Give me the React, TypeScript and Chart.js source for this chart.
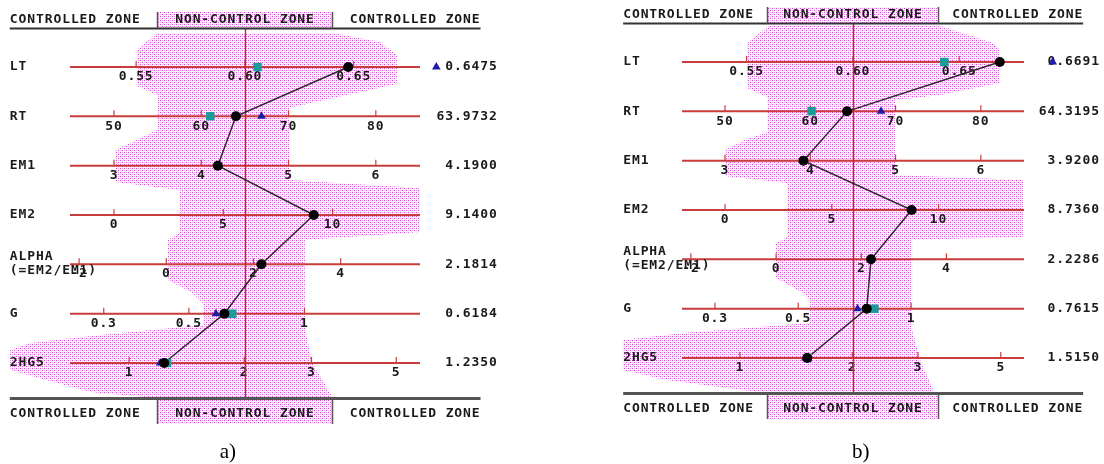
import React, { useEffect, useRef } from 'react';
import { Chart, registerables } from 'chart.js';
Chart.register(...registerables);

// ---------- rows & axes ----------
const ROW_NAMES = ['LT', 'RT', 'EM1', 'EM2', 'ALPHA', 'G', '2HG5'];
const ROW_SUBTITLES = ['', '', '', '', '(=EM2/EM1)', '', ''];
const AXIS_TYPES = ['linear', 'linear', 'linear', 'linear', 'linear', 'logarithmic', 'logarithmic'];
const AXIS_MIN = [0.5196, 44.96, 2.496, -2.014, -2.209, 0.245, 0.7];
const AXIS_MAX = [0.6805, 85.06, 6.506, 14.0, 5.82, 2.0, 5.77];

const LT_TICKS = [0.55, 0.6, 0.65];
const LT_TICK_LABELS = ['0.55', '0.60', '0.65'];
const RT_TICKS = [50, 60, 70, 80];
const RT_TICK_LABELS = ['50', '60', '70', '80'];
const EM1_TICKS = [3, 4, 5, 6];
const EM1_TICK_LABELS = ['3', '4', '5', '6'];
const EM2_TICKS = [0, 5, 10];
const EM2_TICK_LABELS = ['0', '5', '10'];
const ALPHA_TICKS = [-2, 0, 2, 4];
const ALPHA_TICK_LABELS = ['-2', '0', '2', '4'];
const G_TICKS = [0.3, 0.5, 1];
const G_TICK_LABELS = ['0.3', '0.5', '1'];
const HG5_TICKS = [1, 2, 3, 5];
const HG5_TICK_LABELS = ['1', '2', '3', '5'];

const TICK_VALUES = [LT_TICKS, RT_TICKS, EM1_TICKS, EM2_TICKS, ALPHA_TICKS, G_TICKS, HG5_TICKS];
const TICK_LABELS = [LT_TICK_LABELS, RT_TICK_LABELS, EM1_TICK_LABELS, EM2_TICK_LABELS, ALPHA_TICK_LABELS, G_TICK_LABELS, HG5_TICK_LABELS];

const ZONE_LABELS = ['CONTROLLED ZONE', 'NON-CONTROL ZONE', 'CONTROLLED ZONE'];

// ---------- panel a) ----------
const A_VALUES = [0.6475, 63.9732, 4.19, 9.14, 2.1814, 0.6184, 1.235];
const A_TRIANGLES = [0.688, 66.9, null, null, null, 0.588, 1.205];
const A_SQUARES = [0.6058, 61.03, null, null, null, 0.648, 1.257];
const A_ENV_U = [0.249, 0.191, 0.191, 0.249, 0.249, 0.191, 0.129, 0.129, 0.314, 0.314, 0.28, 0.28, 0.351, 0.38, 0.38, 0.086, -0.114, -0.171, -0.171, 0.057, 0.251,
  0.751, 0.691, 0.671, 0.671, 1.0, 1.0, 0.626, 0.626, 0.751, 0.934, 0.934, 0.886, 0.751];
const A_ENV_R = [-0.689, -0.345, 0.385, 0.568, 1.277, 1.48, 1.683, 2.331, 2.493, 3.345, 3.507, 4.318, 4.581, 4.784, 5.23, 5.433, 5.595, 5.737, 6.142, 6.588, 6.71,
  6.71, 5.98, 5.271, 3.507, 3.345, 2.453, 2.291, 0.831, 0.628, 0.345, -0.243, -0.507, -0.689];

// ---------- panel b) ----------
const B_VALUES = [0.6691, 64.3195, 3.92, 8.736, 2.2286, 0.7615, 1.515];
const B_TRIANGLES = [0.694, 68.3, null, null, null, 0.72, 1.5];
const B_SQUARES = [0.643, 60.15, null, null, null, 0.798, 1.52];
const B_ENV_U = [0.257, 0.19, 0.19, 0.249, 0.249, 0.184, 0.126, 0.126, 0.307, 0.307, 0.275, 0.275, 0.354, 0.374, 0.374, 0.003, -0.173, -0.173, -0.044, 0.219, 0.249,
  0.74, 0.696, 0.673, 0.673, 0.997, 0.997, 0.623, 0.623, 0.754, 0.93, 0.93, 0.909, 0.746];
const B_ENV_R = [-0.75, -0.385, 0.527, 0.71, 1.419, 1.581, 1.784, 2.311, 2.453, 3.548, 3.669, 4.379, 4.683, 4.825, 5.291, 5.494, 5.636, 6.244, 6.446, 6.69, 6.73,
  6.73, 6.041, 5.433, 3.608, 3.548, 2.392, 2.291, 0.77, 0.669, 0.426, -0.243, -0.385, -0.75];

const PANELS = [
  { caption: 'a)', values: A_VALUES, triangles: A_TRIANGLES, squares: A_SQUARES, envU: A_ENV_U, envR: A_ENV_R,
    left: 0, width: 560, padding: { left: 70, right: 140, top: 17.67, bottom: 51.7 }, captionU: 0.451 },
  { caption: 'b)', values: B_VALUES, triangles: B_TRIANGLES, squares: B_SQUARES, envU: B_ENV_U, envR: B_ENV_R,
    left: 560, width: 544, padding: { left: 122, right: 80, top: 12.67, bottom: 56.7 }, captionU: 0.523 },
];

// layout constants (axis-fraction / row units)
const ZONE_START = -0.172, ZONE_A = 0.25, ZONE_B = 0.75, ZONE_END = 1.173;
const HEAD_TOP = -1.115, HEAD_TEXT = -0.97, HEAD_LINE = -0.78;
const FOOT_LINE = 6.72, FOOT_TEXT = 7.034, FOOT_BOTTOM = 7.235;
const LABEL_U = -0.172, VALUE_U = 1.222;

const FONT = 'bold 13px "DejaVu Sans Mono"';
const TEXT = '#1a1a1a';
const RED = '#c83c3c';
const BLACK = '#000000';
const TEAL = '#1a9c9c';
const NAVY = '#1c1ca8';

function makePattern() {
  const c = document.createElement('canvas');
  c.width = 4; c.height = 4;
  const g = c.getContext('2d')!;
  g.fillStyle = '#fdf0fd';
  g.fillRect(0, 0, 4, 4);
  g.fillStyle = '#d448d4';
  g.fillRect(0, 0, 1, 1); g.fillRect(2, 2, 1, 1);
  g.fillStyle = '#eeaaee';
  g.fillRect(2, 0, 1, 1); g.fillRect(0, 2, 1, 1);
  return g.createPattern(c, 'repeat');
}

function nomogramPlugin(panel: any, pattern: any) {
  return {
    id: 'nomogram',
    beforeDraw(chart: any) {
      const ctx = chart.ctx;
      const u = chart.scales.u, y = chart.scales.y;
      const X = (v: number) => u.getPixelForValue(v);
      const Y = (r: number) => y.getPixelForValue(r);
      ctx.letterSpacing = '0.9px';
      ctx.save();
      ctx.fillStyle = pattern;
      ctx.beginPath();
      panel.envU.forEach((uv: number, k: number) => {
        const px = X(uv), py = Y(panel.envR[k]);
        if (k === 0) ctx.moveTo(px, py); else ctx.lineTo(px, py);
      });
      ctx.closePath();
      ctx.fill();
      ctx.fillRect(X(ZONE_A), Y(HEAD_TOP), X(ZONE_B) - X(ZONE_A), Y(HEAD_LINE) - Y(HEAD_TOP));
      ctx.fillRect(X(ZONE_A), Y(FOOT_LINE), X(ZONE_B) - X(ZONE_A), Y(FOOT_BOTTOM) - Y(FOOT_LINE));
      ctx.restore();
    },
    beforeDatasetsDraw(chart: any) {
      const ctx = chart.ctx;
      const u = chart.scales.u, y = chart.scales.y;
      const X = (v: number) => u.getPixelForValue(v);
      const Y = (r: number) => y.getPixelForValue(r);
      ctx.save();
      // axis lines + tick marks
      ROW_NAMES.forEach((_, i) => {
        const s = chart.scales['x' + i];
        const py = Y(i);
        ctx.strokeStyle = RED;
        ctx.lineWidth = 2;
        ctx.beginPath();
        ctx.moveTo(s.left, py); ctx.lineTo(s.right, py);
        ctx.stroke();
        ctx.lineWidth = 1.2;
        s.ticks.forEach((t: any) => {
          const px = s.getPixelForValue(t.value);
          ctx.beginPath();
          ctx.moveTo(px, py); ctx.lineTo(px, py - 6);
          ctx.stroke();
        });
      });
      // centre line
      ctx.strokeStyle = '#d82020';
      ctx.lineWidth = 1.4;
      ctx.beginPath();
      ctx.moveTo(Math.round(X(0.5)) + 0.5, Y(HEAD_LINE));
      ctx.lineTo(Math.round(X(0.5)) + 0.5, Y(FOOT_LINE));
      ctx.stroke();
      // connecting line through the black dots
      ctx.strokeStyle = '#2a2a2a';
      ctx.lineWidth = 1.5;
      ctx.beginPath();
      ROW_NAMES.forEach((_, i) => {
        const el = chart.getDatasetMeta(i).data[2];
        if (i === 0) ctx.moveTo(el.x, el.y); else ctx.lineTo(el.x, el.y);
      });
      ctx.stroke();
      ctx.restore();
    },
    afterDraw(chart: any) {
      const ctx = chart.ctx;
      const u = chart.scales.u, y = chart.scales.y;
      const X = (v: number) => u.getPixelForValue(v);
      const Y = (r: number) => y.getPixelForValue(r);
      const area = chart.chartArea;
      ctx.save();
      ctx.font = FONT;
      ctx.fillStyle = TEXT;
      ctx.textBaseline = 'middle';
      // row labels and values
      ROW_NAMES.forEach((name, i) => {
        ctx.textAlign = 'left';
        if (ROW_SUBTITLES[i]) {
          ctx.fillText(name, X(LABEL_U), Y(i - 0.152));
          ctx.fillText(ROW_SUBTITLES[i], X(LABEL_U), Y(i + 0.122));
        } else {
          ctx.fillText(name, X(LABEL_U), Y(i));
        }
        ctx.textAlign = 'right';
        ctx.fillText(panel.values[i].toFixed(4), X(VALUE_U), Y(i));
      });
      // zone header / footer
      [HEAD_TEXT, FOOT_TEXT].forEach((r) => {
        ctx.textAlign = 'left';
        ctx.fillText(ZONE_LABELS[0], X(ZONE_START), Y(r));
        ctx.textAlign = 'center';
        ctx.fillText(ZONE_LABELS[1], X(0.5), Y(r));
        ctx.textAlign = 'right';
        ctx.fillText(ZONE_LABELS[2], X(ZONE_END), Y(r));
      });
      ctx.strokeStyle = '#333333';
      ctx.lineWidth = 2;
      ctx.beginPath();
      ctx.moveTo(X(ZONE_START), Y(HEAD_LINE)); ctx.lineTo(X(ZONE_END), Y(HEAD_LINE));
      ctx.stroke();
      ctx.strokeStyle = '#555555';
      ctx.lineWidth = 3;
      ctx.beginPath();
      ctx.moveTo(X(ZONE_START), Y(FOOT_LINE)); ctx.lineTo(X(ZONE_END), Y(FOOT_LINE));
      ctx.stroke();
      ctx.lineWidth = 1.5;
      [ZONE_A, ZONE_B].forEach((zu) => {
        ctx.beginPath();
        ctx.moveTo(X(zu), Y(HEAD_TOP)); ctx.lineTo(X(zu), Y(HEAD_LINE));
        ctx.moveTo(X(zu), Y(FOOT_LINE)); ctx.lineTo(X(zu), Y(FOOT_BOTTOM));
        ctx.stroke();
      });
      // off-scale triangle markers
      ROW_NAMES.forEach((_, i) => {
        const el = chart.getDatasetMeta(i).data[0];
        if (!el || el.skip || isNaN(el.x)) return;
        if (el.x > area.right + 5 || el.x < area.left - 5) {
          const r = 5;
          ctx.fillStyle = NAVY;
          ctx.beginPath();
          ctx.moveTo(el.x, el.y - r);
          ctx.lineTo(el.x + r * 0.866, el.y + r / 2);
          ctx.lineTo(el.x - r * 0.866, el.y + r / 2);
          ctx.closePath();
          ctx.fill();
        }
      });
      // caption
      ctx.letterSpacing = '0px';
      ctx.fillStyle = '#000';
      ctx.font = '21px "Liberation Serif"';
      ctx.textAlign = 'center';
      ctx.fillText(panel.caption, X(panel.captionU), chart.height - 12);
      ctx.restore();
    },
  };
}

function Panel({ panel }: { panel: any }) {
  const ref = useRef<HTMLCanvasElement>(null);
  useEffect(() => {
    const canvas = ref.current!;
    const pattern = makePattern();
    const scales: any = {
      y: { type: 'linear', axis: 'y', min: -1, max: 7, reverse: true, display: false },
      u: { type: 'linear', axis: 'x', min: 0, max: 1, display: false },
    };
    ROW_NAMES.forEach((_, i) => {
      scales['x' + i] = {
        type: AXIS_TYPES[i],
        axis: 'x',
        position: { y: i },
        min: AXIS_MIN[i],
        max: AXIS_MAX[i],
        bounds: 'data',
        grid: { display: false, drawTicks: false },
        border: { display: false },
        afterBuildTicks: (s: any) => { s.ticks = TICK_VALUES[i].map((v) => ({ value: v })); },
        ticks: {
          autoSkip: false, maxRotation: 0, minRotation: 0, padding: 2, color: TEXT,
          font: { family: 'DejaVu Sans Mono', size: 13, weight: 'bold', lineHeight: 1.2 },
          callback: (_v: any, idx: number) => TICK_LABELS[i][idx],
        },
      };
    });
    const datasets = ROW_NAMES.map((_, i) => ({
      label: ROW_NAMES[i],
      xAxisID: 'x' + i,
      yAxisID: 'y',
      data: [
        { x: panel.triangles[i], y: i },
        { x: panel.squares[i], y: i },
        { x: panel.values[i], y: i },
      ],
      pointStyle: ['triangle', 'rect', 'circle'],
      pointRadius: [5, 6, 5],
      pointBackgroundColor: [NAVY, TEAL, BLACK],
      pointBorderColor: [NAVY, TEAL, BLACK],
      pointBorderWidth: 0,
      showLine: false,
    }));
    const chart = new Chart(canvas, {
      type: 'scatter',
      data: { datasets },
      options: {
        animation: false,
        responsive: false,
        events: [],
        layout: { padding: panel.padding },
        plugins: { legend: { display: false }, tooltip: { enabled: false } },
        scales,
      },
      plugins: [nomogramPlugin(panel, pattern)],
    } as any);
    return () => chart.destroy();
  }, []);
  return (
    <canvas ref={ref} width={panel.width} height={464}
      style={{ position: 'absolute', left: panel.left, top: 0, width: panel.width, height: 464 }} />
  );
}

export default function App() {
  return (
    <div style={{ position: 'fixed', left: 0, top: 0, width: 1104, height: 464, background: '#fff' }}>
      {PANELS.map((p) => <Panel key={p.caption} panel={p} />)}
    </div>
  );
}
